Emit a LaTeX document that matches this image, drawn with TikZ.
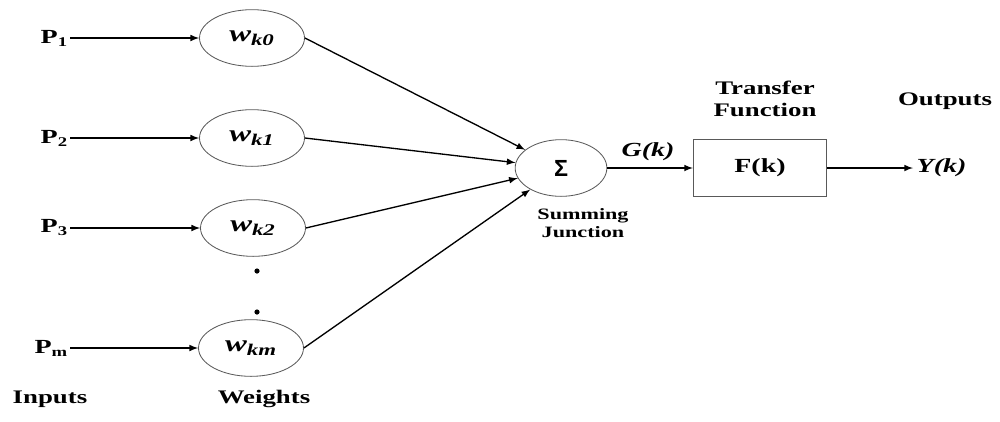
\documentclass[tikz,border=0pt]{standalone}
\usepackage{fontspec}
\setmainfont[FakeStretch=1.4]{Liberation Serif}
\newfontfamily\sigmafont{Liberation Sans}
\usetikzlibrary{shapes.geometric}
\definecolor{edge-gray}{gray}{0.35}
\tikzset{
	weight/.style={ellipse,draw=edge-gray,line width=0.5pt,minimum width=63pt,minimum height=34pt,inner sep=0pt,font=\fontsize{14}{15}\selectfont\bfseries\itshape},
	summer/.style={ellipse,draw=edge-gray,line width=0.5pt,minimum width=55pt,minimum height=34pt,inner sep=0pt,font=\fontsize{14}{15}\selectfont\sigmafont\bfseries},
	transfer/.style={rectangle,draw=edge-gray,line width=0.5pt,minimum width=80pt,minimum height=34pt,font=\fontsize{12}{13}\selectfont\bfseries},
	lbl/.style={font=\fontsize{11.5}{13}\selectfont\bfseries,align=center},
	inp/.style={anchor=east,inner sep=1pt,font=\fontsize{12}{13}\selectfont\bfseries},
	conn/.style={-latex,line width=0.8pt}
}
\begin{document}
\begin{tikzpicture}[x=0.6pt,y=-0.6pt]
			\useasboundingbox (0,0) rectangle (1000,421);							% page frame
			\node[inp] (p1) at (70,38) {P\textsubscript{1}};						% inputs
			\node[inp] (p2) at (70,138) {P\textsubscript{2}};
			\node[inp] (p3) at (70,228) {P\textsubscript{3}};
			\node[inp] (pm) at (70,348) {P\textsubscript{m}};
			\node[weight] (w0) at (252,38) {w\textsubscript{k0}};					% weights
			\node[weight] (w1) at (252,138) {w\textsubscript{k1}};
			\node[weight] (w2) at (253,228) {w\textsubscript{k2}};
			\node[weight] (wm) at (251,348) {w\textsubscript{km}};
			\foreach \y in {271,312}{										% dots
				\fill (257,\y) circle (2.6);
			}
			\node[summer] (sum) at (561,168) {Σ};							% summing junction
			\node[lbl,font=\fontsize{9.5}{11}\selectfont\bfseries] (sumtxt) at (583,223) {Summing\\Junction};
			\node[transfer] (fk) at (760,168) {F(k)};							% transfer function
			\node[lbl] (fktxt) at (765,99) {Transfer\\Function};
			\node[lbl,font=\fontsize{12}{13}\selectfont\bfseries\itshape] (gk) at (648,152) {G(k)};
			\node[lbl,font=\fontsize{12}{13}\selectfont\bfseries\itshape,anchor=west,inner sep=2pt] (yk) at (913,168) {Y(k)};
			\node[lbl] (outtxt) at (945,101) {Outputs};						% captions
			\node[lbl] (intxt) at (50,399) {Inputs};
			\node[lbl] (wtxt) at (264,399) {Weights};
			\foreach \a/\b in {p1/w0,p2/w1,p3/w2,pm/wm}{						% input arrows
				\draw[conn] (\a.east) -- (\b.west);
			}
			\foreach \w in {w0,w1,w2,wm}{									% weight arrows
				\draw[conn] (\w.east) -- (sum);
			}
			\draw[conn] (sum.east) -- (fk.west);								% output path
			\draw[conn] (fk.east) -- (yk.west);
		\end{tikzpicture}
\end{document}
